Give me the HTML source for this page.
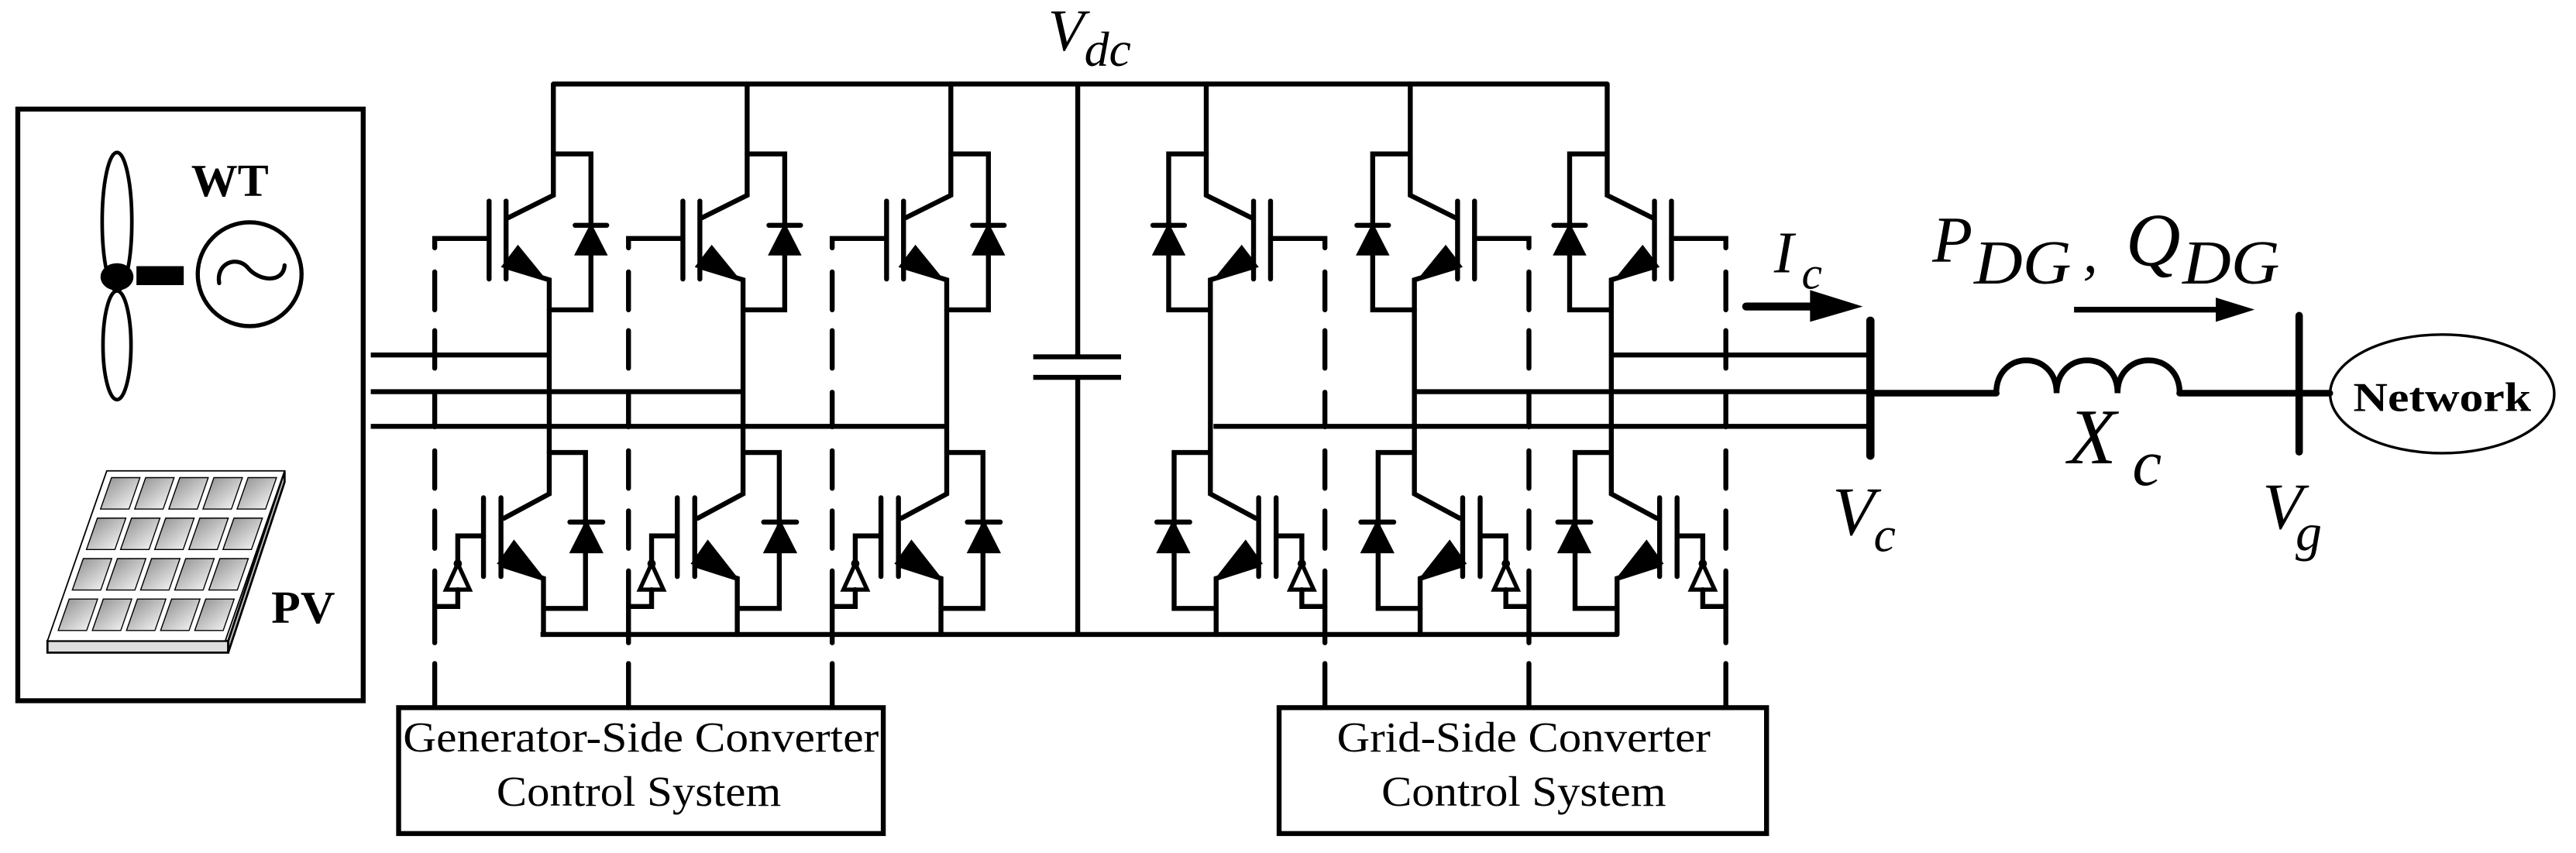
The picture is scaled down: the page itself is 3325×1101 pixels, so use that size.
<!DOCTYPE html>
<html><head><meta charset="utf-8"><style>
html,body{margin:0;padding:0;background:#fff;}
svg{display:block;}
text{font-family:"Liberation Serif",serif;fill:#000;}
</style></head><body>
<svg width="3325" height="1101" viewBox="0 0 1563.2 517.6" preserveAspectRatio="none" xmlns="http://www.w3.org/2000/svg">
<defs>
<linearGradient id="cg" x1="0" y1="0" x2="1" y2="1"><stop offset="0" stop-color="#999"/><stop offset="1" stop-color="#eee"/></linearGradient>
<g id="leg" stroke="#000" stroke-width="3" fill="none" stroke-linecap="round" stroke-linejoin="miter">
  <path d="M0,51 V118.5 L-27.5,132.2"/>
  <path d="M-28.7,122 V169.3 M-39,122 V169.3"/>
  <path d="M-28.7,161.8 L-2.5,169.8 V299.7 L-30,314.5"/>
  <path d="M0,93.4 H22.8 V188 H-2.5"/>
  <path d="M13.2,136.7 H32.4"/>
  <path d="M22.8,136.7 L13.8,154.3 H31.8 Z" fill="#000" stroke-width="1.5"/>
  <path d="M-31,161.8 L-21.5,149.3 L-4.8,169.8 Z" fill="#000" stroke-width="1"/>
  <path d="M-31.8,302 V349.8 M-42.4,302 V349.8"/>
  <path d="M-31,343 L-6,351 V385"/>
  <path d="M-2.5,274.6 H19.5 V369.2 H-6"/>
  <path d="M10,316.8 H30"/>
  <path d="M20,316.8 L10.8,335 H29.2 Z" fill="#000" stroke-width="1.5"/>
  <path d="M-33.5,341.9 L-23.9,328.2 L-7,349.8 Z" fill="#000" stroke-width="1"/>
  <path d="M-72,150.4 V144.7 H-39"/>
  <path d="M-42.4,325.2 H-58 V342"/>
  <circle cx="-58" cy="342" r="2.5" fill="#000" stroke="none"/>
  <path d="M-58,342 L-65.2,357.8 H-50.8 Z" fill="#fff" stroke-width="2.5"/>
  <path d="M-58,357.8 V368 H-72"/>
  <path d="M-72,165 V188 M-72,200.6 V223.4 M-72,238 V259 M-72,273.5 V296.3 M-72,310 V332.7 M-72,346.4 V390 M-72,402.6 V429"/>
</g>
</defs>

<!-- left source box -->
<rect x="10.8" y="66.2" width="209.6" height="359" fill="none" stroke="#000" stroke-width="3"/>
<ellipse cx="71" cy="134.5" rx="9" ry="42" fill="none" stroke="#000" stroke-width="2.2"/>
<ellipse cx="71" cy="209.5" rx="8.5" ry="33" fill="none" stroke="#000" stroke-width="2.2"/>
<ellipse cx="71" cy="168" rx="10" ry="8.3" fill="#000"/>
<rect x="82.8" y="161.5" width="28.7" height="11.5" fill="#000"/>
<circle cx="151.5" cy="166.4" r="31.5" fill="none" stroke="#000" stroke-width="2.5"/>
<path d="M133,171.8 C131,160 143,155 150,162 C157,171 172,172 172.7,161" fill="none" stroke="#000" stroke-width="2.5" stroke-linecap="round"/>
<text x="116" y="119" font-size="28" font-weight="bold" textLength="47" lengthAdjust="spacingAndGlyphs">WT</text>

<!-- PV panel -->
<path d="M28.8,388.9 H138.5 V396 H28.8 Z" fill="#ddd" stroke="#000" stroke-width="1.3"/>
<path d="M172.7,285.7 V292.5 L138.5,396 V388.9 Z" fill="#bbb" stroke="#000" stroke-width="1.3"/>
<g transform="matrix(107.9,0,-36,103.2,64.8,285.7)">
  <path d="M0,0 H1 L1,1 H0 Z" fill="#fff" stroke="#000" stroke-width="1.8" vector-effect="non-scaling-stroke" transform="matrix(1,0,0,1,0,0)"/>
  <g fill="url(#cg)" stroke="#000" stroke-width="1.4">
    <rect x="0.04" y="0.04" width="0.16" height="0.185" vector-effect="non-scaling-stroke"/>
    <rect x="0.232" y="0.04" width="0.16" height="0.185" vector-effect="non-scaling-stroke"/>
    <rect x="0.424" y="0.04" width="0.16" height="0.185" vector-effect="non-scaling-stroke"/>
    <rect x="0.616" y="0.04" width="0.16" height="0.185" vector-effect="non-scaling-stroke"/>
    <rect x="0.808" y="0.04" width="0.16" height="0.185" vector-effect="non-scaling-stroke"/>
    <rect x="0.04" y="0.278" width="0.16" height="0.185" vector-effect="non-scaling-stroke"/>
    <rect x="0.232" y="0.278" width="0.16" height="0.185" vector-effect="non-scaling-stroke"/>
    <rect x="0.424" y="0.278" width="0.16" height="0.185" vector-effect="non-scaling-stroke"/>
    <rect x="0.616" y="0.278" width="0.16" height="0.185" vector-effect="non-scaling-stroke"/>
    <rect x="0.808" y="0.278" width="0.16" height="0.185" vector-effect="non-scaling-stroke"/>
    <rect x="0.04" y="0.516" width="0.16" height="0.185" vector-effect="non-scaling-stroke"/>
    <rect x="0.232" y="0.516" width="0.16" height="0.185" vector-effect="non-scaling-stroke"/>
    <rect x="0.424" y="0.516" width="0.16" height="0.185" vector-effect="non-scaling-stroke"/>
    <rect x="0.616" y="0.516" width="0.16" height="0.185" vector-effect="non-scaling-stroke"/>
    <rect x="0.808" y="0.516" width="0.16" height="0.185" vector-effect="non-scaling-stroke"/>
    <rect x="0.04" y="0.754" width="0.16" height="0.185" vector-effect="non-scaling-stroke"/>
    <rect x="0.232" y="0.754" width="0.16" height="0.185" vector-effect="non-scaling-stroke"/>
    <rect x="0.424" y="0.754" width="0.16" height="0.185" vector-effect="non-scaling-stroke"/>
    <rect x="0.616" y="0.754" width="0.16" height="0.185" vector-effect="non-scaling-stroke"/>
    <rect x="0.808" y="0.754" width="0.16" height="0.185" vector-effect="non-scaling-stroke"/>
  </g>
</g>
<text x="164.6" y="378" font-size="28" font-weight="bold" textLength="38.7" lengthAdjust="spacingAndGlyphs">PV</text>

<!-- buses, capacitor, phase lines -->
<g stroke="#000" stroke-width="3" fill="none">
  <path d="M335.8,51 H975.3"/>
  <path d="M328,385 H981"/>
  <path d="M654,51 V216.5 M627,216.5 H680.3 M627,229 H680.3 M654,229 V385"/>
  <path d="M225,215.4 H333.3 M225,237.7 H450.9 M225,258.7 H574.5"/>
  <path d="M736.4,258.7 H1134.5 M858.3,237.7 H1134.5 M977.8,215.4 H1134.5"/>
</g>

<use href="#leg" transform="translate(335.8,0)"/>
<use href="#leg" transform="translate(453.4,0)"/>
<use href="#leg" transform="translate(577,0)"/>
<use href="#leg" transform="translate(732,0) scale(-1,1)"/>
<use href="#leg" transform="translate(855.8,0) scale(-1,1)"/>
<use href="#leg" transform="translate(975.3,0) scale(-1,1)"/>

<text x="636" y="30.6" font-size="36" font-style="italic">V</text>
<text x="658" y="40" font-size="30" font-style="italic">dc</text>

<!-- control boxes -->
<rect x="241.9" y="429.4" width="294.1" height="76.4" fill="none" stroke="#000" stroke-width="3"/>
<rect x="776.2" y="429.4" width="295.8" height="76.4" fill="none" stroke="#000" stroke-width="3"/>
<text x="244.6" y="456" font-size="26" textLength="288.7" lengthAdjust="spacingAndGlyphs">Generator-Side Converter</text>
<text x="301.3" y="489" font-size="26" textLength="172.7" lengthAdjust="spacingAndGlyphs">Control System</text>
<text x="811.3" y="456" font-size="26" textLength="226.7" lengthAdjust="spacingAndGlyphs">Grid-Side Converter</text>
<text x="838.3" y="489" font-size="26" textLength="172.7" lengthAdjust="spacingAndGlyphs">Control System</text>

<!-- grid side -->
<g stroke="#000" fill="none" stroke-linecap="round">
  <path d="M1135,194.6 V276.5" stroke-width="5"/>
  <path d="M1395.2,191.5 V274.2" stroke-width="4.5"/>
  <path d="M1134.5,238.6 H1211.4 M1322.7,238.6 H1413.8" stroke-width="4"/>
  <path d="M1211.4,238.6 C1211.4,212 1248,212 1248,238.6 C1248,212 1285,212 1285,238.6 C1285,212 1322.7,212 1322.7,238.6" stroke-width="3.5"/>
  <ellipse cx="1482" cy="239" rx="68" ry="36" stroke-width="1.6"/>
  <path d="M1059.6,186 H1100" stroke-width="4.8" stroke-linecap="round"/>
  <path d="M1258.6,187.9 H1346" stroke-width="3.5" stroke-linecap="butt"/>
</g>
<path d="M1098.4,176 L1130.4,186 L1098.4,195.3 Z" fill="#000"/>
<path d="M1344.6,180.6 L1368.2,187.9 L1344.6,195.3 Z" fill="#000"/>
<text x="1482" y="249.4" font-size="25" font-weight="bold" text-anchor="middle" textLength="108" lengthAdjust="spacingAndGlyphs">Network</text>

<g font-style="italic">
<text x="1076.5" y="165.2" font-size="36">I</text>
<text x="1093.3" y="175.2" font-size="28">c</text>
<text x="1172.6" y="159" font-size="40">P</text>
<text x="1197.9" y="172.1" font-size="38" textLength="59" lengthAdjust="spacingAndGlyphs">DG</text>
<text x="1264" y="165" font-size="36">,</text>
<text x="1290" y="161" font-size="46">Q</text>
<text x="1324.4" y="172.1" font-size="38" textLength="59" lengthAdjust="spacingAndGlyphs">DG</text>
<text x="1255" y="281.1" font-size="48">X</text>
<text x="1294" y="294.3" font-size="40">c</text>
<text x="1112" y="324.4" font-size="42">V</text>
<text x="1137" y="334.5" font-size="30">c</text>
<text x="1373" y="320.6" font-size="40">V</text>
<text x="1393" y="333.7" font-size="32">g</text>
</g>
</svg>
</body></html>
